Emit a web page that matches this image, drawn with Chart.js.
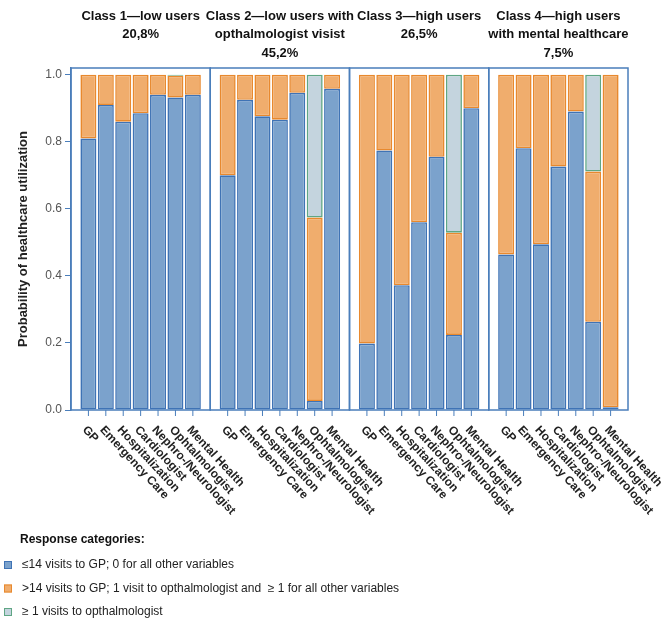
<!DOCTYPE html>
<html>
<head>
<meta charset="utf-8">
<script src="https://cdn.jsdelivr.net/npm/chart.js@4.4.1/dist/chart.umd.min.js"></script>
<style>
  html, body { margin: 0; padding: 0; background: #fff; }
  #wrap { width: 669px; height: 627px; }
</style>
</head>
<body>
<div id="wrap"><canvas id="lcaChart" width="669" height="627"></canvas></div>
<script>
// services shown in every class panel
const categories = ['GP', 'Emergency Care', 'Hospitalization', 'Cardiologist',
                    'Nephro-/Neurologist', 'Ophtalmologist', 'Mental Health'];

// panel headings (one entry per latent class)
const classTitles = [
    ['Class 1\u2014low users', '20,8%'],
    ['Class 2\u2014low users with', 'opthalmologist visist', '45,2%'],
    ['Class 3\u2014high users', '26,5%'],
    ['Class 4\u2014high users', 'with mental healthcare', '7,5%']
];

// probabilities read per class, in the order of categories
const lowUse = [
    0.81, 0.91, 0.86, 0.885, 0.94, 0.932, 0.94,
    0.70, 0.925, 0.876, 0.866, 0.946, 0.027, 0.958,
    0.198, 0.774, 0.372, 0.56, 0.755, 0.224, 0.90,
    0.464, 0.781, 0.494, 0.726, 0.89, 0.263, 0.008
];
const highUse = [
    0.19, 0.09, 0.14, 0.115, 0.06, 0.065, 0.06,
    0.30, 0.075, 0.124, 0.134, 0.054, 0.547, 0.042,
    0.802, 0.226, 0.628, 0.44, 0.245, 0.305, 0.10,
    0.536, 0.219, 0.506, 0.274, 0.11, 0.448, 0.992
];
const ophtalVisits = [
    null, null, null, null, null, 0.003, null,
    null, null, null, null, null, 0.426, null,
    null, null, null, null, null, 0.471, null,
    null, null, null, null, null, 0.289, null
];

const yTicks = [0, 0.2, 0.4, 0.6, 0.8, 1.0];

const seriesLabels = [
    '\u226414 visits to GP; 0 for all other variables',
    '>14 visits to GP; 1 visit to opthalmologist and  \u2265 1 for all other variables',
    '\u2265 1 visits to opthalmologist'
];

const axisBlue = '#4a7ebb';

// bars sit at x = class*8 + category index, leaving a gap slot between panels
function toPoints(values) {
    return values.map((v, i) => ({ x: Math.floor(i / 7) * 8 + (i % 7), y: v }));
}

const panelsPlugin = {
    id: 'panels',
    afterDatasetsDraw(chart) {
        const c = chart.ctx;
        const xs = chart.scales.x;
        const area = chart.chartArea;

        // panel frames
        c.save();
        c.strokeStyle = axisBlue;
        c.lineWidth = 1.5;
        for (let p = 0; p < classTitles.length; p++) {
            const l = xs.getPixelForValue(p * 8 - 1);
            const r = xs.getPixelForValue(p * 8 + 7);
            c.strokeRect(l, area.top, r - l, area.bottom - area.top);
        }

        // tick marks and slanted category labels
        c.lineWidth = 1;
        c.fillStyle = '#222';
        c.font = 'bold 12px "Liberation Sans", Arial, sans-serif';
        c.textAlign = 'left';
        c.textBaseline = 'middle';
        for (let p = 0; p < classTitles.length; p++) {
            categories.forEach((name, i) => {
                const px = xs.getPixelForValue(p * 8 + i);
                c.beginPath();
                c.moveTo(px, area.bottom);
                c.lineTo(px, area.bottom + 6);
                c.stroke();
                c.save();
                c.translate(px - 4, area.bottom + 18);
                c.rotate(47 * Math.PI / 180);
                c.fillText(name, 0, 0);
                c.restore();
            });
        }

        // class headings
        c.textAlign = 'center';
        c.font = 'bold 13px "Liberation Sans", Arial, sans-serif';
        c.fillStyle = '#111';
        classTitles.forEach((lines, p) => {
            const cx = xs.getPixelForValue(p * 8 + 3);
            lines.forEach((txt, k) => c.fillText(txt, cx, 16 + k * 18.5));
        });

        // legend block
        c.textAlign = 'left';
        c.fillStyle = '#111';
        c.font = 'bold 12px "Liberation Sans", Arial, sans-serif';
        c.fillText('Response categories:', 20, 540);
        c.font = '12px "Liberation Sans", Arial, sans-serif';
        chart.data.datasets.forEach((ds, k) => {
            const y = 565 + k * 23.5;
            c.fillStyle = ds.backgroundColor;
            c.fillRect(4, y - 4, 8, 8);
            c.strokeStyle = ds.borderColor;
            c.strokeRect(4.5, y - 3.5, 7, 7);
            c.fillStyle = '#222';
            c.fillText(ds.label, 22, y);
        });
        c.restore();
    }
};

const ctx = document.getElementById('lcaChart').getContext('2d');

new Chart(ctx, {
    type: 'bar',
    data: {
        datasets: [
            {
                label: seriesLabels[0],
                data: toPoints(lowUse),
                backgroundColor: '#7ba2cc',
                borderColor: '#3f73b5',
            },
            {
                label: seriesLabels[1],
                data: toPoints(highUse),
                backgroundColor: '#f0ad6d',
                borderColor: '#e8892e',
            },
            {
                label: seriesLabels[2],
                data: toPoints(ophtalVisits),
                backgroundColor: '#c4d4de',
                borderColor: '#5fa684',
            }
        ]
    },
    options: {
        responsive: false,
        animation: false,
        borderWidth: 1.6,
        borderSkipped: false,
        barPercentage: 0.92,
        categoryPercentage: 1.0,
        layout: { padding: { left: 0, right: 41, top: 68, bottom: 217 } },
        plugins: {
            legend: { display: false },
            tooltip: { enabled: false }
        },
        scales: {
            x: {
                type: 'linear',
                min: -1,
                max: 31,
                offset: false,
                stacked: true,
                display: false
            },
            y: {
                stacked: true,
                min: 0,
                max: 1.02,
                afterFit: (scale) => { scale.width = 71; },
                afterBuildTicks: (scale) => {
                    scale.ticks = yTicks.map(v => ({ value: v }));
                },
                ticks: {
                    padding: 3,
                    color: '#555',
                    font: { family: '"Liberation Sans", Arial, sans-serif', size: 12 },
                    callback: (v) => v.toFixed(1)
                },
                grid: {
                    drawOnChartArea: false,
                    color: axisBlue,
                    tickLength: 6
                },
                border: { color: axisBlue, width: 1.5 },
                title: {
                    display: true,
                    text: 'Probability of healthcare utilization',
                    color: '#222',
                    padding: { top: 16 },
                    font: { family: '"Liberation Sans", Arial, sans-serif', size: 13, weight: 'bold' }
                }
            }
        }
    },
    plugins: [panelsPlugin]
});
</script>
</body>
</html>
